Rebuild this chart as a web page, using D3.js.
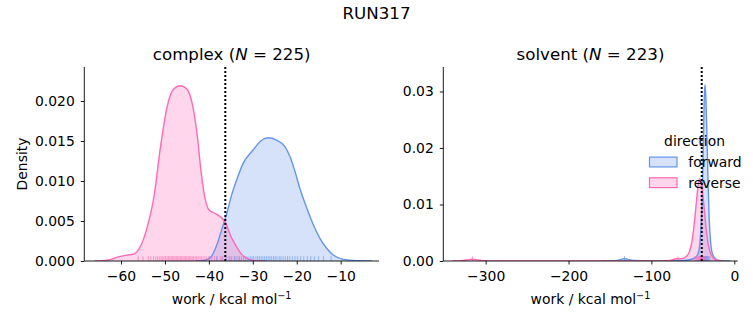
<!DOCTYPE html>
<html><head><meta charset="utf-8">
<script src="https://cdn.jsdelivr.net/npm/d3@7"></script>
<style>body{margin:0;background:#fff}svg{display:block}text{font-family:"DejaVu Sans",sans-serif;fill:#000}</style>
</head><body><svg id="c" width="753" height="325"></svg>
<script>
// ---- data ----
const suptitle = "RUN317";
const directions = ["forward", "reverse"];
const colors = ["#6495ED", "#FF69B4"];

// complex phase: KDE curves [work, density]
const complexForward = [[-43,0],[-41,0.0001],[-39.7,0.0004],[-38.2,0.002],[-37.1,0.0039],[-35.9,0.006],[-34.8,0.0083],[-33.7,0.0101],[-32.2,0.0122],[-29.9,0.0139],[-28,0.0151],[-26.5,0.0154],[-24.6,0.0151],[-22.7,0.0143],[-21.5,0.013],[-20.4,0.0112],[-19.3,0.0091],[-17.7,0.0066],[-16.2,0.0045],[-14.7,0.0028],[-13.2,0.0016],[-11.7,0.00075],[-9.4,0.0002],[-6,0.00004],[-3,0]];
const complexReverse = [[-66,0],[-63,0.0001],[-61,0.00045],[-59,0.0007],[-57,0.0009],[-55.5,0.0019],[-54,0.0043],[-52.5,0.008],[-51,0.0143],[-49.5,0.0193],[-48,0.0215],[-46.5,0.0219],[-45,0.0215],[-43.8,0.0197],[-42.6,0.0155],[-41.9,0.0118],[-41.1,0.0085],[-40,0.0064],[-38.4,0.0059],[-37.3,0.0055],[-36.2,0.0048],[-35,0.0031],[-33.7,0.0018],[-32.5,0.0008],[-31.2,0.0003],[-29.5,0.00005],[-27,0]];
const complexRugForward = [-39.8,-38.2,-37.0,-36.1,-35.4,-34.8,-34.2,-33.6,-33.1,-32.6,-32.1,-31.6,-31.1,-30.6,-30.2,-29.8,-29.3,-28.9,-28.5,-28.1,-27.7,-27.3,-26.9,-26.5,-26.1,-25.7,-25.3,-24.9,-24.5,-24.0,-23.6,-23.1,-22.6,-22.1,-21.6,-21.0,-20.4,-19.8,-19.1,-18.4,-17.6,-16.8,-16.0,-15.0,-13.9,-12.2];
const complexRugReverse = [-56.1,-55.0,-53.8,-53.2,-52.6,-52.1,-51.7,-51.3,-50.9,-50.6,-50.2,-49.9,-49.5,-49.2,-48.9,-48.6,-48.3,-48.0,-47.7,-47.4,-47.1,-46.8,-46.5,-46.2,-45.9,-45.6,-45.3,-45.0,-44.7,-44.4,-44.1,-43.8,-43.5,-43.1,-42.8,-42.4,-42.0,-41.6,-41.1,-40.6,-40.0,-39.3,-38.7,-38.1,-37.4,-36.8,-36.1,-35.2,-34.0,-33.1];
const complexEstimate = -36.26;

// solvent phase
const solventForward = [[-160,0],[-145,0.00005],[-136,0.0003],[-132.5,0.00045],[-129,0.0003],[-120,0.00008],[-105,0.00003],[-80,0.00003],[-60,0.0001],[-50,0.0004],[-45,0.0009],[-42,0.0025],[-40,0.0065],[-38.6,0.0115],[-37.4,0.0205],[-36.3,0.0285],[-35.3,0.0312],[-34.3,0.029],[-33,0.022],[-31.6,0.0135],[-30.3,0.0075],[-28.5,0.0032],[-26,0.0011],[-22,0.0003],[-15,0.00004],[-5,0]];
const solventReverse = [[-340,0],[-330,0.00006],[-322,0.0002],[-316,0.00032],[-310,0.0002],[-302,0.00006],[-290,0.00001],[-200,0],[-95,0.00001],[-78,0.0001],[-70,0.0004],[-64,0.0004],[-58,0.0008],[-54,0.0017],[-51,0.0035],[-48,0.007],[-45.5,0.0108],[-43.5,0.0135],[-41.8,0.0145],[-40,0.014],[-38,0.0118],[-36,0.0088],[-34,0.0058],[-31.5,0.003],[-28.5,0.0013],[-25,0.0005],[-20,0.0001],[-14,0]];
const solventRugForward = [-132.5,-41,-39.5,-38.5,-37.8,-37.2,-36.6,-36.1,-35.6,-35.1,-34.6,-34.1,-33.5,-32.8,-32,-31,-29.5];
const solventRugReverse = [-316,-68,-47.5,-46,-45,-44.2,-43.5,-42.8,-42.2,-41.6,-41,-40.4,-39.8,-39.2,-38.5,-37.8,-37,-36,-34.5,-32];
const solventEstimate = -39.3;

const complexXTicks = [-60,-50,-40,-30,-20,-10];
const complexYTicks = [0,0.005,0.010,0.015,0.020];
const solventXTicks = [-300,-200,-100,0];
const solventYTicks = [0,0.01,0.02,0.03];

// ---- drawing ----
const svg = d3.select("#c");
const minus = s => s.replace("-", "\u2212");

svg.append("text").attr("x",376.5).attr("y",19).attr("text-anchor","middle")
  .style("font-size","16.67px").text(suptitle);

function panel(o){
  const x = d3.scaleLinear().domain(o.xd).range([o.x0,o.x1]);
  const y = d3.scaleLinear().domain(o.yd).range([261,67]);
  const g = svg.append("g");
  const clipId = "clip"+o.name;
  g.append("clipPath").attr("id",clipId).append("rect")
    .attr("x",o.x0).attr("y",67).attr("width",o.x1-o.x0).attr("height",194);
  const pg = g.append("g").attr("clip-path",`url(#${clipId})`);
  const area = d3.area().x(d=>x(d[0])).y0(y(0)).y1(d=>y(d[1])).curve(d3.curveMonotoneX);
  const line = d3.line().x(d=>x(d[0])).y(d=>y(d[1])).curve(d3.curveMonotoneX);
  o.curves.forEach((c,i)=>{
    pg.append("path").attr("d",area(c)).attr("fill",colors[i]).attr("fill-opacity",0.27);
  });
  o.curves.forEach((c,i)=>{
    pg.append("path").attr("d",line(c)).attr("fill","none").attr("stroke",colors[i]).attr("stroke-width",1.4);
  });
  const rh = 194*0.025;
  o.rugs.forEach((r,i)=>{
    pg.selectAll(null).data(r).enter().append("line")
      .attr("x1",d=>x(d)).attr("x2",d=>x(d)).attr("y1",261).attr("y2",261-rh)
      .attr("stroke",colors[i]).attr("stroke-width",1).attr("stroke-opacity",0.6);
  });
  pg.append("line").attr("x1",x(o.est)).attr("x2",x(o.est)).attr("y1",67).attr("y2",261)
    .attr("stroke","#000").attr("stroke-width",2).attr("stroke-dasharray","2,2");

  // axes
  const xa = d3.axisBottom(x).tickValues(o.xt).tickSize(3.5).tickPadding(7).tickFormat(d=>minus(String(d)));
  const ya = d3.axisLeft(y).tickValues(o.yt).tickSize(3.5).tickPadding(6).tickFormat(d3.format(o.yf));
  const gx = g.append("g").attr("transform","translate(0,261)").call(xa);
  const gy = g.append("g").attr("transform",`translate(${o.x0},0)`).call(ya);
  [gx,gy].forEach(a=>{
    a.select(".domain").attr("stroke","#000").attr("stroke-width",0.9);
    a.selectAll(".tick line").attr("stroke","#000").attr("stroke-width",0.9);
    a.selectAll(".tick text").style("font-size","13.9px").style("font-family","DejaVu Sans").attr("fill","#000");
  });
  gx.select(".domain").attr("d",`M${o.x0},0H${o.x1}`);
  gy.select(".domain").attr("d",`M0,261V67`);
  gx.selectAll(".tick text").attr("dy","0.71em");
  gy.selectAll(".tick text").attr("x",-9.5);

  // title
  const t = g.append("text").attr("x",(o.x0+o.x1)/2).attr("y",60).attr("text-anchor","middle").style("font-size","16.67px");
  t.append("tspan").text(o.name+" (");
  t.append("tspan").style("font-style","italic").text("N");
  t.append("tspan").text(" = "+o.n+")");
  // xlabel
  const xl = g.append("text").attr("x",(o.x0+o.x1)/2).attr("y",304).attr("text-anchor","middle").style("font-size","13.9px");
  xl.append("tspan").text("work / kcal mol");
  xl.append("tspan").attr("dy",-5.5).style("font-size","9.7px").text("\u22121");
  return {x,y};
}

panel({name:"complex",n:225,x0:84.3,x1:379,xd:[-68.35,-1.28],yd:[0,0.02425],
  curves:[complexForward,complexReverse],rugs:[complexRugForward,complexRugReverse],est:complexEstimate,
  xt:complexXTicks,yt:complexYTicks,yf:".3f"});
panel({name:"solvent",n:223,x0:443.3,x1:737.7,xd:[-351.1,4.1],yd:[0,0.03433],
  curves:[solventForward,solventReverse],rugs:[solventRugForward,solventRugReverse],est:solventEstimate,
  xt:solventXTicks,yt:solventYTicks,yf:".2f"});

svg.append("text").attr("x",22).attr("y",164).attr("text-anchor","middle")
  .attr("transform","rotate(-90,22,164)").attr("dy","0.35em").style("font-size","13.9px").text("Density");

// legend
const lg = svg.append("g");
lg.append("text").attr("x",694.5).attr("y",146).attr("text-anchor","middle").style("font-size","13.9px").text("direction");
directions.forEach((d,i)=>{
  const cy = 162 + i*20.7;
  lg.append("rect").attr("x",649.5).attr("y",cy-4.9).attr("width",27.5).attr("height",9.8)
    .attr("fill",colors[i]).attr("fill-opacity",0.27).attr("stroke",colors[i]).attr("stroke-width",1.2);
  lg.append("text").attr("x",688.3).attr("y",cy+4.8).style("font-size","13.9px").text(d);
});
</script></body></html>
